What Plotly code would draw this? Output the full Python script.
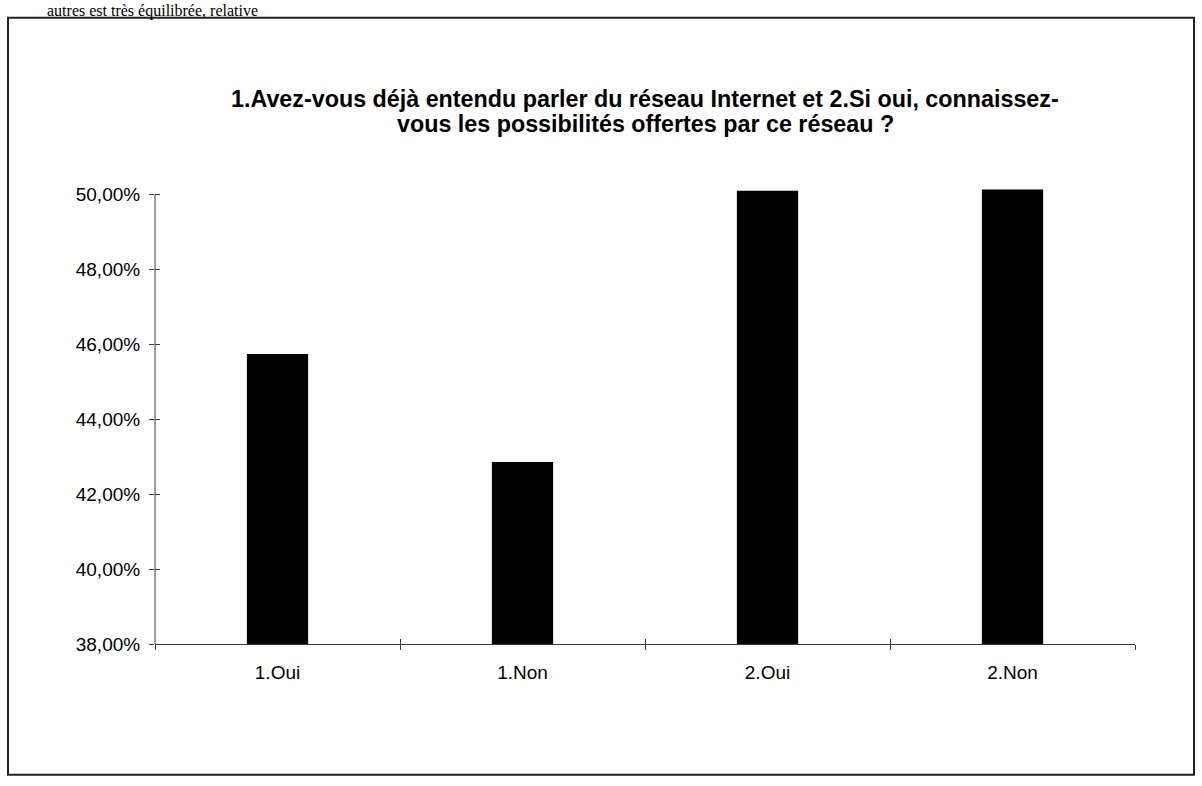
import plotly.graph_objects as go

# Survey answers (share of respondents)
categories = ["1.Oui", "1.Non", "2.Oui", "2.Non"]
shares = [45.74, 42.86, 50.10, 50.13]

tick_values = [38, 40, 42, 44, 46, 48, 50]
tick_labels = ["38,00%", "40,00%", "42,00%", "44,00%", "46,00%", "48,00%", "50,00%"]

title_lines = ["1.Avez-vous déjà entendu parler du réseau Internet et 2.Si oui, connaissez-",
               "vous les possibilités offertes par ce réseau ?"]
page_text = "autres est très équilibrée, relative"

W, H = 1202, 786
y_min, y_max = 38, 50.2
px_per_unit = (644.3 - 194.7) / 12
L, R, B = 155, 67, 141.7
T = 194.7 - (y_max - 50) * px_per_unit
plot_w = W - L - R
plot_h = H - T - B


def px_x(px):
    return (px - L) / plot_w


def px_y(py):
    return 1 + (T - py) / plot_h


font_family = "Liberation Sans, Arial, sans-serif"
axis_color = "#3a3a3a"

fig = go.Figure()
fig.add_trace(go.Bar(
    x=categories, y=shares,
    marker=dict(color="black", line=dict(width=0)),
    hoverinfo="skip",
))
# transparent copy of the data, used only to draw the inward tick marks
fig.add_trace(go.Scatter(
    x=categories, y=shares, xaxis="x2", yaxis="y2",
    mode="markers", marker=dict(opacity=0), hoverinfo="skip", showlegend=False,
))

axis_common = dict(showgrid=False, zeroline=False, linecolor=axis_color, linewidth=1,
                   tickcolor=axis_color, tickwidth=1, ticklen=5)

fig.update_layout(
    width=W, height=H,
    margin=dict(l=L, r=R, t=T, b=B, autoexpand=False),
    paper_bgcolor="white", plot_bgcolor="white",
    showlegend=False,
    bargap=0.75,
    font=dict(family=font_family, color="black", size=19),
    xaxis=dict(type="category", categoryorder="array", categoryarray=categories,
               showline=True, ticks="outside", tickson="boundaries",
               tickfont=dict(size=19), ticklabelstandoff=11, **axis_common),
    yaxis=dict(range=[y_min, y_max], tickvals=tick_values, ticktext=tick_labels,
               showline=False, ticks="outside", tickfont=dict(size=19),
               ticklabelstandoff=5, **axis_common),
    xaxis2=dict(type="category", categoryorder="array", categoryarray=categories,
                overlaying="x", matches="x", showline=False, ticks="inside",
                tickson="boundaries", showticklabels=False, **axis_common),
    yaxis2=dict(range=[y_min, y_max], tickvals=tick_values, overlaying="y",
                showline=False, ticks="inside", showticklabels=False, **axis_common),
)

# Value axis line, running from the lowest to the highest tick
fig.add_shape(
    type="line", xref="paper", yref="y",
    x0=0, x1=0, y0=tick_values[0], y1=tick_values[-1],
    line=dict(color=axis_color, width=1),
)

# Chart title, two centred lines
for line_text, line_y in zip(title_lines, [99, 124]):
    fig.add_annotation(
        text=line_text, xref="paper", yref="paper",
        x=px_x(645), y=px_y(line_y), xanchor="center", yanchor="middle",
        showarrow=False,
        font=dict(family=font_family, size=23.3, color="black", weight="bold"),
    )

# Line of the surrounding page text above the frame
fig.add_annotation(
    text=page_text, xref="paper", yref="paper",
    x=px_x(45), y=px_y(0), xanchor="left", yanchor="top",
    showarrow=False,
    font=dict(family="Liberation Serif, Times New Roman, serif", size=16, color="black"),
)

# Frame around the chart
fig.add_shape(
    type="rect", xref="paper", yref="paper",
    x0=px_x(8), x1=px_x(1194), y0=px_y(775), y1=px_y(18),
    line=dict(color="#222222", width=2), fillcolor="rgba(0,0,0,0)", layer="below",
)

fig.write_html("out.html")
